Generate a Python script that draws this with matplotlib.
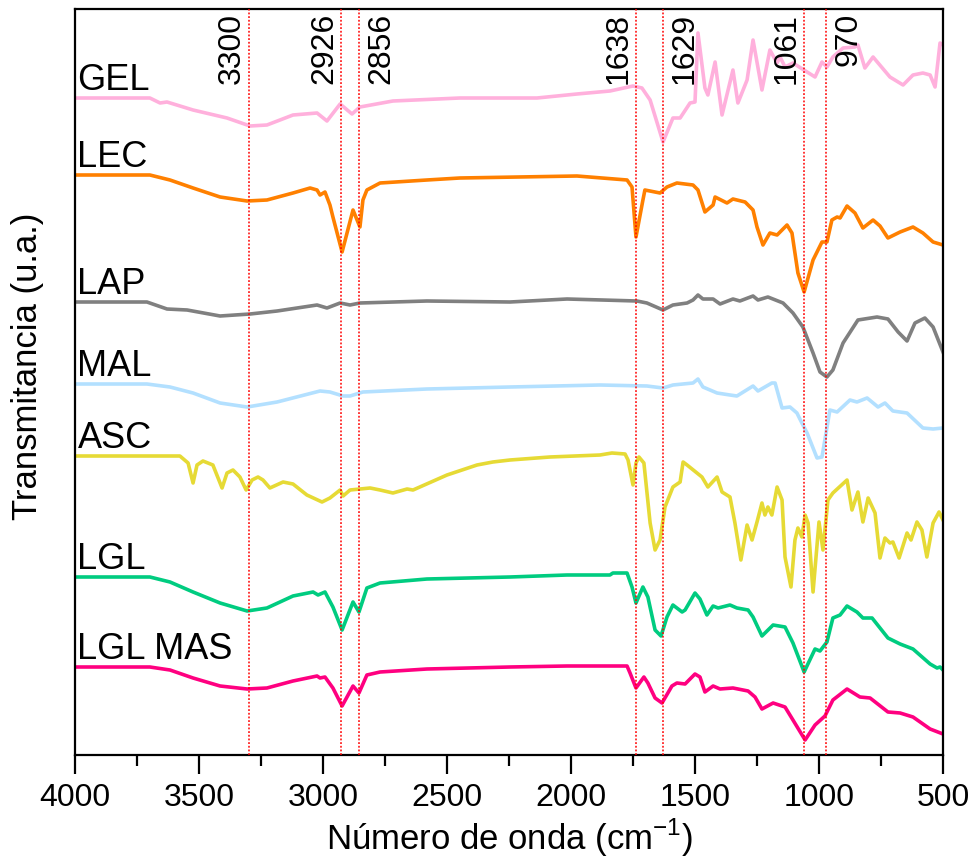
import matplotlib
matplotlib.use("Agg")
import matplotlib.pyplot as plt
import numpy as np

plt.rcParams['font.family'] = ['Liberation Sans', 'DejaVu Sans']
plt.rcParams['mathtext.fontset'] = 'custom'
plt.rcParams['mathtext.rm'] = 'Liberation Sans'

# ---------------- data (wavenumber cm-1, transmittance a.u. with offset) ----------------
gel_x = [4000, 3698, 3657, 3629, 3524, 3387, 3294, 3226, 3121, 3024, 2984, 2931, 2883, 2851, 2718,
         2448, 2137, 1976, 1843, 1750, 1714, 1681, 1629, 1589, 1560, 1520, 1500, 1488, 1460, 1448,
         1419, 1391, 1347, 1327, 1290, 1266, 1230, 1198, 1169, 1157, 1137, 1105, 1048, 1016, 988,
         968, 944, 903, 855, 843, 815, 782, 714, 661, 621, 581, 552, 532, 512, 500]
gel_y = [657, 657, 652, 653, 645, 637, 629, 630, 640, 642, 634, 651, 641, 648, 654,
         657, 657, 661, 664, 669, 667, 655, 613, 637, 637, 652, 653, 722, 667, 660,
         693, 640, 685, 652, 675, 715, 665, 705, 692, 698, 688, 692, 683, 678, 693,
         688, 698, 707, 708, 710, 687, 698, 678, 670, 680, 682, 680, 668, 712, 710]

lec_x = [4000, 3698, 3617, 3524, 3415, 3306, 3226, 3121, 3052, 3024, 3012, 2992, 2972, 2960, 2923,
         2879, 2851, 2839, 2823, 2770, 2581, 2448, 1976, 1774, 1754, 1738, 1710, 1702, 1641, 1613,
         1573, 1508, 1488, 1460, 1427, 1419, 1371, 1347, 1298, 1266, 1250, 1226, 1198, 1169, 1129,
         1109, 1085, 1060, 1024, 988, 968, 948, 927, 915, 887, 855, 823, 782, 754, 722, 673, 621,
         581, 540, 500]
lec_y = [580, 580, 575, 567, 558, 554, 555, 562, 567, 565, 560, 563, 550, 538, 503,
         545, 528, 555, 565, 572, 575, 577, 579, 575, 568, 518, 555, 565, 562, 568,
         572, 570, 565, 543, 550, 558, 552, 556, 553, 545, 528, 510, 522, 520, 530,
         522, 482, 463, 495, 513, 513, 535, 538, 537, 549, 542, 527, 535, 529, 517, 523, 528,
         522, 513, 510]

lap_x = [4000, 3710, 3629, 3548, 3415, 3294, 3185, 3024, 2984, 2931, 2891, 2851, 2581, 2246, 2016,
         1734, 1694, 1629, 1589, 1532, 1508, 1488, 1468, 1427, 1399, 1347, 1319, 1266, 1246, 1206,
         1145, 1105, 1065, 1024, 996, 968, 944, 903, 843, 766, 722, 681, 645, 613, 573, 540, 500]
lap_y = [453, 453, 446, 445, 439, 441, 444, 450, 447, 452, 450, 452, 454, 453, 456,
         454, 452, 445, 450, 452, 455, 460, 456, 456, 451, 456, 454, 459, 455, 458,
         452, 442, 428, 402, 383, 378, 385, 412, 435, 438, 436, 423, 414, 432, 437, 428, 403]

mal_x = [4000, 3710, 3617, 3524, 3415, 3306, 3185, 3012, 2972, 2919, 2891, 2839, 2581, 2246, 1883,
         1694, 1629, 1589, 1508, 1488, 1468, 1411, 1359, 1331, 1266, 1246, 1190, 1177, 1149, 1117,
         1089, 1069, 1048, 1008, 988, 956, 927, 875, 847, 806, 762, 734, 702, 645, 581, 540, 500]
mal_y = [371, 371, 368, 362, 352, 348, 353, 364, 363, 359, 359, 363, 366, 368, 370,
         369, 367, 370, 372, 376, 368, 362, 360, 359, 369, 364, 372, 372, 347, 348,
         342, 332, 322, 297, 298, 345, 343, 355, 353, 357, 348, 352, 344, 342, 327, 326, 327]

asc_x = [4000, 3577, 3544, 3524, 3508, 3484, 3444, 3407, 3387, 3363, 3335, 3310, 3286, 3262, 3242,
         3214, 3161, 3121, 3065, 3004, 2972, 2931, 2919, 2891, 2810, 2770, 2718, 2661, 2637, 2500,
         2379, 2315, 2246, 2085, 1883, 1835, 1782, 1770, 1750, 1738, 1726, 1706, 1681, 1661, 1641,
         1621, 1589, 1560, 1548, 1532, 1492, 1472, 1448, 1411, 1391, 1359, 1339, 1315, 1290, 1270,
         1250, 1230, 1218, 1206, 1190, 1169, 1149, 1137, 1129, 1113, 1097, 1085, 1069, 1056, 1044,
         1024, 1000, 984, 964, 944, 887, 867, 843, 823, 802, 774, 754, 734, 714, 702, 677, 645,
         629, 605, 585, 565, 540, 516, 500]
asc_y = [299, 299, 292, 272, 290, 294, 290, 267, 282, 285, 278, 265, 275, 278, 275,
         267, 273, 271, 260, 253, 257, 265, 259, 265, 267, 265, 262, 266, 265, 280,
         290, 293, 295, 298, 300, 302, 301, 295, 270, 292, 298, 292, 232, 205, 215,
         248, 268, 273, 293, 290, 282, 278, 268, 278, 263, 258, 232, 195, 230, 215,
         233, 252, 240, 248, 240, 268, 255, 198, 188, 168, 215, 227, 218, 240, 232,
         163, 233, 205, 255, 262, 275, 245, 263, 233, 257, 242, 197, 217, 212, 213, 197, 222,
         215, 233, 225, 198, 232, 243, 235]

lgl_x = [4000, 3698, 3617, 3524, 3415, 3306, 3226, 3121, 3040, 3020, 2992, 2960, 2923, 2879, 2855,
         2823, 2770, 2581, 2246, 2016, 1843, 1831, 1774, 1754, 1738, 1710, 1690, 1661, 1637, 1613,
         1589, 1552, 1540, 1500, 1480, 1452, 1427, 1407, 1359, 1331, 1286, 1266, 1230, 1185, 1137,
         1105, 1060, 1016, 996, 968, 944, 915, 887, 847, 823, 786, 722, 673, 621, 552, 524, 512, 500]
lgl_y = [178, 178, 173, 163, 152, 144, 147, 159, 163, 160, 163, 148, 125, 153, 143,
         167, 172, 176, 178, 180, 180, 182, 182, 168, 152, 168, 158, 125, 119, 138,
         150, 143, 145, 162, 156, 140, 149, 147, 150, 147, 145, 138, 119, 130, 128,
         112, 83, 106, 104, 113, 137, 140, 149, 143, 137, 137, 117, 111, 106, 91, 87, 88, 85]

mas_x = [4000, 3698, 3617, 3524, 3415, 3306, 3226, 3121, 3024, 3012, 2992, 2960, 2923, 2879, 2855,
         2823, 2770, 2581, 2246, 2016, 1774, 1762, 1738, 1706, 1690, 1661, 1633, 1593, 1573, 1540,
         1500, 1480, 1460, 1427, 1399, 1347, 1286, 1258, 1230, 1185, 1137, 1105, 1056, 1016, 976,
         944, 887, 835, 794, 722, 673, 621, 552, 500]
mas_y = [88, 88, 85, 77, 69, 66, 67, 74, 79, 77, 78, 67, 49, 69, 62,
         80, 83, 86, 88, 89, 89, 82, 67, 78, 72, 57, 52, 69, 72, 71,
         81, 78, 63, 69, 66, 67, 64, 58, 46, 52, 48, 35, 15, 30, 39,
         55, 66, 58, 57, 43, 42, 38, 26, 21]

series_names = ['GEL', 'LEC', 'LAP', 'MAL', 'ASC', 'LGL', 'LGL MAS']
series_x = [gel_x, lec_x, lap_x, mal_x, asc_x, lgl_x, mas_x]
series_y = [gel_y, lec_y, lap_y, mal_y, asc_y, lgl_y, mas_y]
series_colors = ['#FFB0DC', '#FF8000', '#808080', '#B3E0FF', '#E6DA35', '#00CC80', '#FF0080']

peak_pos = [3300, 2926, 2856, 1738, 1631, 1062, 970]
peak_labels = ['3300', '2926', '2856', '1638', '1629', '1061', '970']
peak_side = ['left', 'left', 'right', 'left', 'right', 'left', 'right']

# ---------------- figure ----------------
fig = plt.figure(figsize=(9.72, 8.60), dpi=100)
ax = fig.add_axes([75/972, 105/860, 868/972, 746/860])

for name, xs, ys, c in zip(series_names, series_x, series_y, series_colors):
    ax.plot(xs, ys, color=c, lw=2.6, solid_joinstyle='round', zorder=2)
    ax.text(3990, ys[0] + 8, name, fontsize=26, ha='left', va='baseline', zorder=4)

for p, lab, side in zip(peak_pos, peak_labels, peak_side):
    ax.axvline(p, color='red', lw=1.1, ls=(0, (1.2, 1.2)), zorder=3)
    if side == 'left':
        ax.text(p + 8, 742, lab, rotation=90, fontsize=23, ha='right', va='top', zorder=4)
    else:
        ax.text(p - 30, 742, lab, rotation=90, fontsize=23, ha='left', va='top', zorder=4)

ax.set_xlim(4000, 500)
ax.set_ylim(0, 746)
ax.set_xticks(np.arange(4000, 499, -500))
ax.set_xticks(np.arange(3750, 500, -500), minor=True)
ax.set_yticks([])
ax.tick_params(axis='x', which='major', direction='out', length=14, width=1.6,
               labelsize=23, pad=6, top=False)
ax.tick_params(axis='x', which='minor', direction='out', length=8, width=1.6, top=False)
for s in ax.spines.values():
    s.set_linewidth(1.6)

fig.text(509/972, 1 - 850/860, 'Número de onda (cm$^{\\mathregular{-1}}$)', fontsize=25,
         ha='center', va='baseline')
fig.text(28/972, 1 - 366/860, 'Transmitancia (u.a.)', rotation=90, fontsize=25,
         ha='center', va='center')

fig.savefig('out.png', dpi=100)
